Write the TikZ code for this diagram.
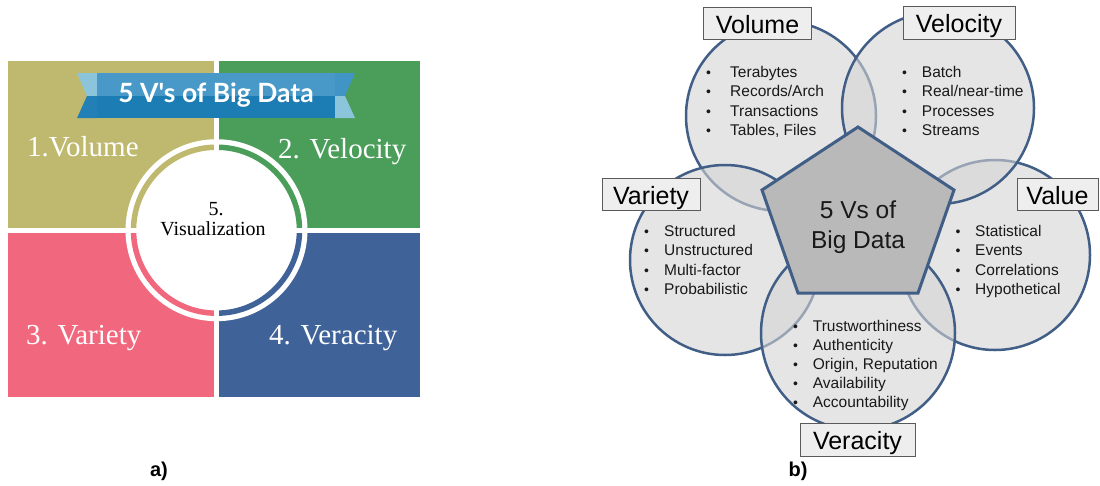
\documentclass[tikz,border=0pt]{standalone}
\usepackage{fontspec}
\setmainfont{Liberation Sans}
\newfontfamily\quadfont{Liberation Serif}
\newfontfamily\bannerfont{Lato}

% quadrant panel colours
\definecolor{vololive}{RGB}{190,185,110}
\definecolor{velgreen}{RGB}{74,158,90}
\definecolor{varpink}{RGB}{241,104,126}
\definecolor{verblue}{RGB}{63,99,153}
\definecolor{bandlight}{RGB}{72,153,199}
\definecolor{banddark}{RGB}{28,124,180}
\definecolor{bandfold}{RGB}{140,196,220}
% circle diagram colours
\definecolor{rimblue}{RGB}{64,94,134}
\definecolor{discgrey}{RGB}{212,212,212}
\definecolor{pentgrey}{RGB}{185,185,185}
\definecolor{tagborder}{RGB}{90,90,90}
\definecolor{tagfill}{RGB}{238,238,238}
\definecolor{inkgrey}{RGB}{25,25,25}

\newcommand\bulbox[1]{\makebox[#1][l]{\fontsize{14}{14}\selectfont\textbullet}}

\tikzset{
  quadlabel/.style={anchor=base west, inner sep=0, text=white,
    font=\quadfont\fontsize{29}{29}\selectfont},
  disc/.style={fill=discgrey, fill opacity=0.6, draw=rimblue, draw opacity=1, line width=2.5},
  tag/.style={draw=tagborder, fill=tagfill, line width=1, inner sep=0,
    font=\fontsize{25}{25}\selectfont, text=black, text height=21, text depth=1},
  listitem/.style={anchor=west, inner sep=0, text=inkgrey,
    font=\fontsize{15.5}{15.5}\selectfont, text height=11, text depth=3.5},
  panellabel/.style={font=\bfseries\fontsize{20}{20}\selectfont, inner sep=0}
}

\begin{document}
\begin{tikzpicture}[x=1pt,y=-1pt]
\useasboundingbox (0,0) rectangle (1100,485);

% ---------- a) four quadrants ----------
\fill[vololive] (8,61) rectangle (214,227.7);
\fill[velgreen] (219,61) rectangle (420,227.7);
\fill[varpink]  (8,232.7) rectangle (214,397);
\fill[verblue]  (219,232.7) rectangle (420,397);

% central white disc with coloured rim
\coordinate (hub) at (216.5,230.2);
\fill[white] (hub) circle[radius=91];
\draw[vololive, line width=5.5] ([shift={(180:83)}]hub) arc[start angle=180, end angle=270, radius=83];
\draw[velgreen, line width=5.5] ([shift={(270:83)}]hub) arc[start angle=270, end angle=360, radius=83];
\draw[verblue,  line width=5.5] ([shift={(0:83)}]hub)   arc[start angle=0,   end angle=90,  radius=83];
\draw[varpink,  line width=5.5] ([shift={(90:83)}]hub)  arc[start angle=90,  end angle=180, radius=83];
\fill[white] (214,61) rectangle (219,397);
\fill[white] (8,227.7) rectangle (420,232.7);

% ribbon banner
\fill[bandfold] (77,73) -- (97,73) -- (97,96) -- (87,96) -- cycle;
\fill[banddark!85!bandlight] (87,96) -- (97,96) -- (97,118) -- (77,118) -- cycle;
\fill[bandlight] (97,73) rectangle (335,96);
\fill[banddark]  (97,96) rectangle (335,118);
\fill[bandlight!85!banddark] (335,73) -- (355,73) -- (345,96) -- (335,96) -- cycle;
\fill[bandfold] (335,96) -- (345,96) -- (355,118) -- (335,118) -- cycle;
\node[inner sep=0, text=white, font=\bannerfont\bfseries\fontsize{26.5}{26.5}\selectfont]
  (banner) at (216,95) {5 V's of Big Data};

\node[quadlabel] (qvol) at (27,156) {1.Volume};
\node[quadlabel] (qvel) at (278,158) {2. Velocity};
\node[quadlabel] (qvar) at (26,344) {3. Variety};
\node[quadlabel] (qver) at (269,344) {4. Veracity};
\node[inner sep=0, font=\quadfont\fontsize{20}{20}\selectfont] (qvis5) at (216,209) {5.};
\node[inner sep=0, font=\quadfont\fontsize{20}{20}\selectfont] (qvis) at (213,229) {Visualization};

\node[panellabel] (labA) at (159,471) {a)};

% ---------- b) five overlapping circles ----------
\path[disc] (781,116) circle[radius=95];
\path[disc] (995,255) circle[radius=95];
\path[disc] (938,108) circle[radius=96];
\path[disc] (725,260) circle[radius=95];
\path[disc] (858,333) circle[radius=97];

% central pentagon
\draw[fill=pentgrey, draw=rimblue, line width=3, line join=miter]
  (858,127) -- (954,190) -- (918,293) -- (798,293) -- (762,190) -- cycle;
\node[align=center, inner sep=0, text=inkgrey, font=\fontsize{24.5}{30}\selectfont]
  (core) at (858,227) {5 Vs of\\Big Data};

% headings
\node[tag, minimum width=108, minimum height=32] (tvol) at (757.5,23.3) {Volume};
\node[tag, minimum width=112, minimum height=33] (tvel) at (959,22.5) {Velocity};
\node[tag, minimum width=98,  minimum height=32] (tvar) at (651,194) {Variety};
\node[tag, minimum width=81,  minimum height=32] (tval) at (1057.5,194) {Value};
\node[tag, minimum width=115, minimum height=33] (tver) at (857.5,439.5) {Veracity};

% bullet lists
\foreach \t [count=\i] in {Terabytes, Records/Arch, Transactions, {Tables, Files}}
  \node[listitem] (lvol\i) at (706,{74+19.2*(\i-1)}) {\bulbox{24pt}\t};
\foreach \t [count=\i] in {Batch, Real/near-time, Processes, Streams}
  \node[listitem] (lvel\i) at (902,{74+19.2*(\i-1)}) {\bulbox{19.7pt}\t};
\foreach \t [count=\i] in {Structured, Unstructured, Multi-factor, Probabilistic}
  \node[listitem] (lvar\i) at (643.8,{233+19.2*(\i-1)}) {\bulbox{20.2pt}\t};
\foreach \t [count=\i] in {Statistical, Events, Correlations, Hypothetical}
  \node[listitem] (lval\i) at (955.4,{233+19.2*(\i-1)}) {\bulbox{19.6pt}\t};
\foreach \t [count=\i] in {Trustworthiness, Authenticity, {Origin, Reputation}, Availability, Accountability}
  \node[listitem] (lver\i) at (793,{327.5+19.1*(\i-1)}) {\bulbox{19.7pt}\t};

\node[panellabel] (labB) at (798,471) {b)};
\end{tikzpicture}
\end{document}
